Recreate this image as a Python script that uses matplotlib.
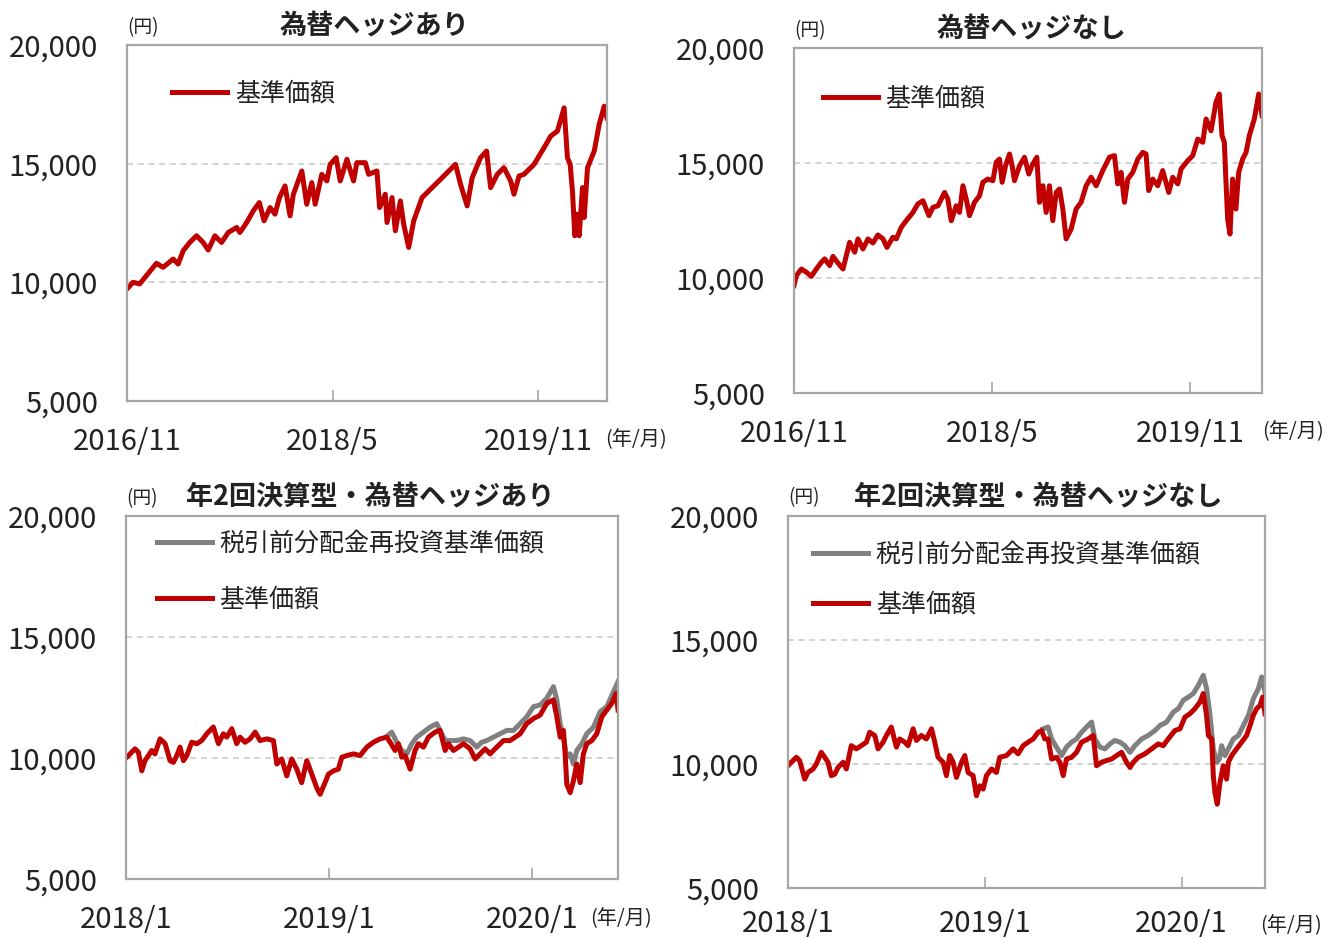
import matplotlib
matplotlib.use("Agg")
import matplotlib.pyplot as plt

plt.rcParams['font.family'] = ['Noto Sans CJK JP', 'DejaVu Sans']

# ---- data (months since start, 円) ----
# 為替ヘッジあり  (start 2016/11)
h1_t = [0.00, 0.53, 1.11, 1.70, 2.58, 3.16, 4.04, 4.48, 4.92, 5.50, 6.09, 6.67, 7.11, 7.70, 8.28,
        8.87, 9.60, 9.89, 10.48, 11.06, 11.59, 12.00, 12.53, 12.96, 13.35, 13.84, 14.28, 14.57,
        15.31, 15.74, 16.18, 16.48, 17.06, 17.50, 17.79, 18.32, 18.67, 19.26, 19.84, 20.13, 20.87,
        21.16, 21.89, 22.12, 22.62, 22.77, 23.21, 23.50, 23.94, 24.23, 24.67, 25.11, 25.84, 26.72,
        27.60, 28.18, 28.77, 29.21, 29.79, 30.23, 30.96, 31.49, 31.84, 32.43, 33.01, 33.60, 33.89,
        34.33, 34.77, 35.65, 36.52, 37.11, 37.69, 38.28, 38.57, 38.81, 39.01, 39.22, 39.45, 39.60,
        39.89, 40.04, 40.33, 40.92, 41.35, 41.79, 42.03]
h1_v = [9720, 10000, 9930, 10280, 10800, 10630, 10980, 10770, 11330, 11680, 11960, 11680, 11360,
        11960, 11680, 12100, 12310, 12100, 12520, 13010, 13360, 12590, 13150, 12870, 13570, 14060,
        12800, 13710, 14690, 13290, 14200, 13290, 14550, 14270, 14970, 15250, 14270, 15180, 14270,
        15040, 15040, 14550, 14690, 13150, 13710, 12520, 13570, 12170, 13430, 12450, 11470, 12590,
        13570, 13990, 14410, 14690, 14970, 14130, 13220, 14410, 15250, 15530, 13990, 14550, 14830,
        14270, 13710, 14480, 14550, 14970, 15670, 16160, 16370, 17350, 15250, 14970, 13850, 11960,
        12870, 11960, 13990, 12730, 14830, 15530, 16650, 17420, 16930]

# 為替ヘッジなし  (start 2016/11)
n1_t = [0.00, 0.21, 0.67, 1.12, 1.57, 2.03, 2.48, 2.78, 3.24, 3.54, 3.99, 4.45, 4.75, 5.05, 5.51,
        5.81, 6.26, 6.72, 7.17, 7.62, 8.08, 8.44, 8.98, 9.29, 9.74, 10.19, 10.80, 11.25, 11.71,
        12.25, 12.61, 13.07, 13.67, 13.97, 14.28, 14.73, 15.03, 15.34, 15.64, 15.94, 16.39, 16.85,
        17.15, 17.60, 18.06, 18.36, 18.66, 18.90, 19.21, 19.57, 19.81, 20.02, 20.48, 20.93, 21.32,
        21.69, 22.05, 22.29, 22.60, 22.90, 23.20, 23.50, 23.81, 24.11, 24.41, 24.71, 25.17, 25.62,
        26.07, 26.53, 26.98, 27.44, 28.04, 28.64, 29.10, 29.40, 29.70, 30.01, 30.31, 30.76, 31.22,
        31.67, 31.97, 32.21, 32.58, 33.03, 33.48, 34.03, 34.39, 34.85, 35.15, 35.75, 36.21, 36.66,
        37.12, 37.42, 37.87, 38.32, 38.62, 38.87, 39.08, 39.23, 39.38, 39.59, 39.83, 40.13, 40.38,
        40.74, 41.05, 41.35, 41.80, 42.20, 42.50]
n1_v = [9670, 10100, 10390, 10250, 10070, 10390, 10680, 10830, 10540, 10940, 10650, 10390, 10970,
        11550, 11120, 11700, 11260, 11700, 11520, 11870, 11700, 11330, 11770, 11700, 12200, 12490,
        12850, 13220, 13360, 12710, 13070, 13140, 13720, 13430, 12490, 13140, 12850, 14010, 13430,
        12710, 13290, 13580, 14160, 14300, 14230, 15030, 15170, 14160, 14880, 15390, 14880, 14230,
        14880, 15250, 14520, 14960, 15250, 13290, 14010, 12850, 14010, 12490, 13720, 13870, 13000,
        11700, 12130, 13000, 13290, 14010, 14380, 14010, 14670, 15250, 15320, 14090, 14590, 13290,
        14300, 14590, 15170, 15460, 15390, 13800, 14300, 14010, 14670, 13720, 14380, 14090, 14740,
        15100, 15320, 16040, 15900, 16910, 16400, 17640, 18000, 16190, 15900, 14160, 12560, 11910,
        14300, 13000, 14590, 15170, 15460, 16190, 16910, 18000, 17060]

# 年2回決算型・為替ヘッジあり  (start 2018/1)
h2_t = [0.00, 0.24, 0.53, 0.73, 0.93, 1.12, 1.32, 1.52, 1.71, 2.01, 2.31, 2.60, 2.80, 3.00, 3.19,
        3.39, 3.59, 3.88, 4.18, 4.47, 4.77, 5.16, 5.46, 5.75, 5.95, 6.25, 6.54, 6.74, 7.03, 7.33,
        7.63, 7.92, 8.32, 8.71, 8.91, 9.20, 9.50, 9.79, 10.09, 10.38, 10.68, 10.98, 11.27, 11.47,
        11.76, 11.96, 12.26, 12.55, 12.75, 13.04, 13.44, 13.83, 14.23, 14.62, 15.01, 15.41, 15.61,
        15.90, 16.10, 16.30, 16.49, 16.79, 17.08, 17.28, 17.58, 17.87, 18.27, 18.56, 18.86, 19.05,
        19.35, 19.65, 19.94, 20.33, 20.63, 20.93, 21.22, 21.52, 21.91, 22.31, 22.70, 23.00, 23.29,
        23.68, 24.08, 24.47, 24.87, 25.26, 25.46, 25.66, 25.85, 25.95, 26.05, 26.25, 26.44, 26.64,
        26.84, 27.03, 27.23, 27.53, 27.82, 28.12, 28.41, 28.71, 28.97, 29.08]
h2_v = [10000, 10170, 10380, 10240, 9470, 9890, 10100, 10310, 10170, 10790, 10590, 9890, 9820, 10100,
        10450, 9890, 10100, 10650, 10590, 10720, 11000, 11280, 10590, 11000, 10860, 11210, 10590,
        10860, 10650, 10790, 11070, 10720, 10790, 10720, 9750, 9960, 9260, 9960, 9540, 8980, 9890,
        9330, 8770, 8500, 8980, 9330, 9470, 9540, 10030, 10100, 10170, 10100, 10450, 10650, 10790,
        10860, 10650, 10310, 10590, 10030, 10100, 9540, 10310, 10590, 10450, 10860, 11070, 11140,
        10310, 10590, 10310, 10450, 10590, 10380, 9960, 10170, 10380, 10170, 10450, 10720, 10720,
        10860, 11000, 11420, 11630, 11770, 12260, 12400, 11700, 10860, 11140, 10170, 8910, 8570,
        9050, 9750, 8980, 10170, 10590, 10720, 11000, 11700, 11980, 12260, 12670, 11980]
h2r_t = [15.41, 15.70, 16.00, 16.30, 16.59, 16.89, 17.18, 17.58, 17.97, 18.36, 18.56, 18.86, 19.25,
         19.55, 19.94, 20.33, 20.73, 21.02, 21.32, 21.71, 22.11, 22.50, 22.90, 23.29, 23.68, 24.08,
         24.47, 24.87, 25.26, 25.46, 25.66, 25.85, 26.05, 26.25, 26.44, 26.64, 26.94, 27.23, 27.63,
         28.02, 28.41, 28.81, 29.08]
h2r_v = [10890, 11070, 10650, 10310, 10170, 10590, 10860, 11070, 11280, 11420, 11140, 10720, 10720,
         10720, 10790, 10720, 10450, 10650, 10720, 10860, 11000, 11140, 11140, 11420, 11700, 12120,
         12190, 12470, 12950, 12400, 11420, 10860, 10030, 10170, 9750, 10310, 10590, 11000, 11280,
         11910, 12120, 12740, 13160]

# 年2回決算型・為替ヘッジなし  (start 2018/1)
n2_t = [0.00, 0.20, 0.51, 0.71, 1.02, 1.22, 1.53, 1.73, 2.03, 2.24, 2.44, 2.64, 2.85, 3.05, 3.36,
        3.56, 3.86, 4.17, 4.47, 4.78, 4.98, 5.29, 5.49, 5.80, 6.00, 6.30, 6.61, 6.81, 7.12, 7.32,
        7.63, 7.83, 8.13, 8.44, 8.75, 8.95, 9.15, 9.46, 9.66, 9.86, 10.07, 10.27, 10.58, 10.78,
        10.98, 11.29, 11.49, 11.69, 11.90, 12.10, 12.41, 12.71, 12.91, 13.32, 13.73, 14.03, 14.34,
        14.64, 14.95, 15.25, 15.46, 15.66, 15.86, 16.07, 16.37, 16.58, 16.78, 16.98, 17.29, 17.59,
        17.90, 18.30, 18.61, 18.81, 19.12, 19.42, 19.73, 20.03, 20.34, 20.64, 20.85, 21.05, 21.35,
        21.76, 22.17, 22.57, 22.88, 23.18, 23.59, 23.90, 24.20, 24.51, 24.81, 25.12, 25.32, 25.52,
        25.63, 25.83, 25.93, 26.03, 26.17, 26.34, 26.54, 26.74, 26.85, 27.05, 27.35, 27.66, 27.96,
        28.17, 28.37, 28.57, 28.78, 28.94, 29.08]
n2_v = [9930, 10070, 10270, 10140, 9390, 9660, 9800, 10000, 10470, 10270, 10070, 9530, 9590, 9860,
        10070, 9800, 10740, 10610, 10740, 10880, 11280, 11150, 10610, 10880, 11150, 11490, 10680,
        11010, 10880, 10740, 11420, 10950, 11150, 11010, 11420, 10880, 10270, 10070, 9530, 10340,
        10070, 9460, 10070, 10340, 9660, 9530, 8720, 9120, 8990, 9530, 9800, 9660, 10270, 10340,
        10610, 10410, 10740, 10880, 11010, 11280, 11350, 11010, 11010, 10200, 10270, 10070, 9530,
        10200, 10270, 10470, 10880, 11010, 11150, 9930, 10070, 10140, 10200, 10340, 10470, 10070,
        9860, 10070, 10270, 10410, 10610, 10810, 10740, 11010, 11350, 11420, 11890, 12030, 12230,
        12500, 12840, 11960, 11150, 11010, 9530, 8850, 8380, 9260, 9930, 9390, 10070, 10340, 10610,
        10880, 11150, 11550, 11960, 12230, 12360, 12700, 12030]
n2r_t = [15.56, 15.86, 16.07, 16.37, 16.68, 16.98, 17.29, 17.59, 17.90, 18.20, 18.51, 18.71, 19.02,
         19.32, 19.63, 19.93, 20.24, 20.54, 20.85, 21.15, 21.56, 21.96, 22.37, 22.68, 23.08, 23.49,
         23.80, 24.10, 24.41, 24.71, 25.02, 25.32, 25.52, 25.73, 25.93, 26.13, 26.30, 26.44, 26.64,
         26.85, 27.15, 27.46, 27.76, 28.07, 28.37, 28.68, 28.88, 29.08]
n2r_v = [11420, 11490, 11010, 10680, 10340, 10680, 10880, 11010, 11280, 11490, 11690, 11010, 10680,
         10610, 10810, 10950, 10880, 10740, 10470, 10740, 11010, 11150, 11350, 11550, 11690, 12090,
         12230, 12570, 12700, 12840, 13170, 13580, 13040, 11960, 10610, 10070, 10200, 10740, 10340,
         10610, 11010, 11150, 11550, 11960, 12630, 13040, 13510, 12900]

yticks = [5000, 10000, 15000, 20000]
ticks_a = [0, 18, 36]
labels_a = ['2016/11', '2018/5', '2019/11']
ticks_b = [0, 12, 24]
labels_b = ['2018/1', '2019/1', '2020/1']

RED = '#C00000'
GRAY = '#808080'
TXT = '#222222'

fig = plt.figure(figsize=(13.41, 9.39), dpi=100)


def panel(rect, title, title_x, xt, xl, red, gray=None, leg_xy=(0.09, 0.93), leg_sp=0.9,
          ym_xy=(1.0, -0.11), xpad=18.5):
    ax = fig.add_axes(rect)
    if gray is not None:
        ax.plot(gray[0], gray[1], color=GRAY, lw=3.6, solid_joinstyle='round',
                label='税引前分配金再投資基準価額')
    ax.plot(red[0], red[1], color=RED, lw=3.6, solid_joinstyle='round', label='基準価額')
    ax.set_ylim(5000, 20000)
    ax.set_xlim(0, red[0][-1])
    ax.set_yticks(yticks)
    ax.set_yticklabels([f'{v:,}' for v in yticks])
    ax.set_xticks(xt)
    ax.set_xticklabels(xl)
    for v in (10000, 15000):
        ax.axhline(v, color='#C8C8C8', lw=1.1, ls=(0, (4, 3)), zorder=0)
    for s in ax.spines.values():
        s.set_color('#A6A6A6')
        s.set_linewidth(1.6)
    ax.tick_params(axis='y', length=0, pad=21, labelsize=21, labelcolor=TXT)
    ax.tick_params(axis='x', direction='in', length=8, width=1.2, color='#A6A6A6',
                   pad=xpad, labelsize=21, labelcolor=TXT)
    ax.set_title(title, x=title_x, fontsize=19.5, fontweight='bold', color=TXT, pad=8)
    ax.text(0.0, 1.02, '(円)', transform=ax.transAxes, fontsize=13.5, color=TXT,
            ha='left', va='bottom')
    ax.text(ym_xy[0], ym_xy[1], '(年/月)', transform=ax.transAxes, fontsize=14.5, color=TXT,
            ha='left', va='center')
    ax.legend(loc='upper left', bbox_to_anchor=leg_xy, frameon=False, fontsize=18,
              handlelength=2.2, handletextpad=0.3, borderpad=0, borderaxespad=0,
              labelspacing=leg_sp, labelcolor=TXT)
    return ax


panel([0.0947, 0.5730, 0.3579, 0.3791], '為替ヘッジあり', 0.516, ticks_a, labels_a,
      (h1_t, h1_v), leg_xy=(0.094, 0.90), ym_xy=(0.996, -0.11))
panel([0.5921, 0.5815, 0.3490, 0.3674], '為替ヘッジなし', 0.507, ticks_a, labels_a,
      (n1_t, n1_v), leg_xy=(0.062, 0.89), ym_xy=(1.0, -0.113))
panel([0.0940, 0.0639, 0.3669, 0.3866], '年2回決算型・為替ヘッジあり', 0.496, ticks_b, labels_b,
      (h2_t, h2_v), (h2r_t, h2r_v), leg_xy=(0.063, 0.96), leg_sp=1.2, ym_xy=(0.943, -0.11))
panel([0.5876, 0.0543, 0.3557, 0.3962], '年2回決算型・為替ヘッジなし', 0.525, ticks_b, labels_b,
      (n2_t, n2_v), (n2r_t, n2r_v), leg_xy=(0.053, 0.93), leg_sp=0.95, ym_xy=(0.99, -0.1),
      xpad=15)

fig.savefig('out.png', dpi=100)
